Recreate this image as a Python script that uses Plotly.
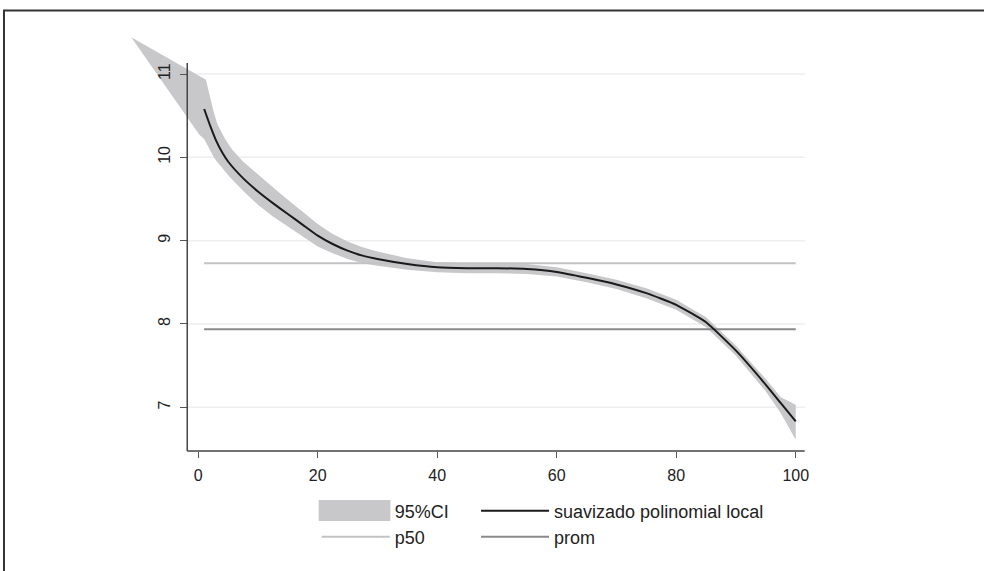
import plotly.graph_objects as go

# ---- data ----
x_fit = [1, 2, 3, 4, 5, 7.5, 10, 12.5, 15, 17.5, 20, 22.5, 25, 27.5, 30, 35, 40, 45,
         50, 55, 60, 65, 70, 75, 80, 85, 90, 95, 97.5, 100]
y_fit = [10.58, 10.38, 10.20, 10.06, 9.95, 9.75, 9.59, 9.45, 9.32, 9.19, 9.06, 8.96, 8.88,
         8.82, 8.78, 8.72, 8.68, 8.67, 8.67, 8.66, 8.625, 8.555, 8.475, 8.37, 8.23, 8.02, 7.68,
         7.27, 7.05, 6.83]

ci_up_x = [-11.2, 1.3, 2.5, 3.2, 4.5, 5.7, 7.5, 10, 12.5, 15, 17.5, 20, 22.5, 25, 27.5, 30,
           35, 40, 45, 50, 55, 60, 65, 70, 75, 80, 85, 90, 95, 97.5, 100]
ci_up_y = [11.44, 10.93, 10.57, 10.40, 10.22, 10.09, 9.95, 9.79, 9.64, 9.49, 9.34, 9.20, 9.08,
           8.99, 8.92, 8.87, 8.79, 8.74, 8.73, 8.73, 8.72, 8.68, 8.61, 8.53, 8.43, 8.29, 8.08,
           7.74, 7.34, 7.12, 7.03]
ci_lo_x = [-11.2, 0.2, 1, 2.7, 5.2, 7.5, 10, 12.5, 15, 17.5, 20, 22.5, 25, 27.5, 30, 35, 40,
           45, 50, 55, 60, 65, 70, 75, 80, 85, 90, 95, 97.5, 100]
ci_lo_y = [11.44, 10.27, 10.22, 9.99, 9.77, 9.60, 9.43, 9.29, 9.16, 9.05, 8.93, 8.85, 8.78,
           8.73, 8.70, 8.65, 8.62, 8.61, 8.61, 8.60, 8.57, 8.50, 8.42, 8.31, 8.17, 7.96, 7.62,
           7.19, 6.93, 6.61]

ref_x = [1, 100]
p50_value = 8.728
prom_value = 7.936

x_ticks = [0, 20, 40, 60, 80, 100]
y_ticks = [7, 8, 9, 10, 11]

# ---- figure ----
W, H = 984, 571
FONT = "Liberation Sans, Arial, Helvetica, sans-serif"
BAND = "#c8c8ca"


def fx(p):
    return p / W


def fy(p):
    return 1 - p / H


band_x = ci_up_x + ci_lo_x[::-1]
band_y = ci_up_y + ci_lo_y[::-1]

fig = go.Figure()
fig.add_trace(go.Scatter(
    x=band_x, y=band_y, mode="lines", fill="toself", fillcolor=BAND,
    line=dict(width=0, color=BAND), name="95%CI", legend="legend", hoverinfo="skip"))
fig.add_trace(go.Scatter(
    x=ref_x, y=[p50_value] * 2, mode="lines", line=dict(color="#c2c2c4", width=2),
    name="p50", legend="legend3"))
fig.add_trace(go.Scatter(
    x=ref_x, y=[prom_value] * 2, mode="lines", line=dict(color="#8a8a8c", width=2),
    name="prom", legend="legend4"))
fig.add_trace(go.Scatter(
    x=x_fit, y=y_fit, mode="lines",
    line=dict(color="#1a1a1a", width=2, shape="spline", smoothing=0.4),
    name="suavizado polinomial local", legend="legend2"))

# plot area: x px 125..808, y px 30..451
x0p, x1p = 125, 808
y0p, y1p = 30, 451
xr = [(x0p - 199) / 6.0, (x1p - 199) / 6.0]
yr = [11 - (y1p - 74) / 83.33, 11 - (y0p - 74) / 83.33]

shapes = []
for v in y_ticks:
    shapes.append(dict(type="line", xref="paper", yref="y", x0=fx(188), x1=fx(808), y0=v, y1=v,
                       line=dict(color="#eeeeee", width=1.5), layer="below"))
shapes.append(dict(type="line", xref="paper", yref="paper", x0=fx(188), x1=fx(188),
                   y0=fy(451), y1=fy(63), line=dict(color="#444444", width=1.5), layer="above"))
shapes.append(dict(type="line", xref="paper", yref="paper", x0=fx(188), x1=fx(808),
                   y0=fy(451), y1=fy(451), line=dict(color="#444444", width=1.5), layer="above"))
shapes.append(dict(type="rect", xref="paper", yref="paper", x0=fx(4), x1=1.1,
                   y0=-0.1, y1=fy(10.5), line=dict(color="#333333", width=2), layer="above"))
# taller swatch for the 95%CI legend key
shapes.append(dict(type="rect", xref="paper", yref="paper", x0=fx(320), x1=fx(392),
                   y0=fy(521), y1=fy(500), fillcolor=BAND, line=dict(width=0), layer="above"))


def leg(xp, yp):
    return dict(orientation="v", x=fx(xp), y=fy(yp), xanchor="left", yanchor="middle",
                itemwidth=68, font=dict(family=FONT, size=18, color="#222222"),
                bgcolor="rgba(0,0,0,0)", borderwidth=0)


fig.update_layout(
    width=W, height=H, margin=dict(l=0, r=0, t=0, b=0),
    paper_bgcolor="white", plot_bgcolor="white",
    font=dict(family=FONT, size=16, color="#222222"),
    xaxis=dict(domain=[fx(x0p), fx(x1p)], range=xr, showgrid=False, zeroline=False,
               showline=False, ticks="outside", ticklen=6, tickwidth=1.2, tickcolor="#555555",
               tickvals=x_ticks, tickfont=dict(size=16, color="#222222"), anchor="y",
               ticklabelstandoff=4),
    yaxis=dict(domain=[fy(y1p), fy(y0p)], range=yr, showgrid=False, zeroline=False,
               showline=False, ticks="outside", ticklen=7, tickwidth=1.2, tickcolor="#555555",
               tickvals=y_ticks, tickangle=-90, tickfont=dict(size=16, color="#222222"),
               anchor="free", position=fx(188), ticklabelstandoff=4),
    shapes=shapes,
    showlegend=True,
    legend=leg(318, 511),
    legend2=leg(478, 511),
    legend3=leg(318, 537),
    legend4=leg(478, 537),
)

fig.write_html("out.html")
